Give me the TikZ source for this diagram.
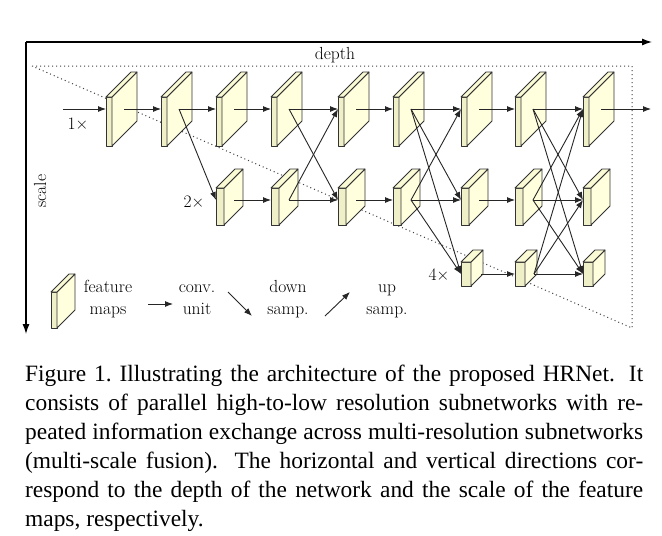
\documentclass[tikz,border=0pt]{standalone}
\usepackage{fontspec}
\newfontfamily\capfamily{Liberation Serif}
\usepackage{tikz}
\usetikzlibrary{arrows.meta}

\definecolor{mapfront}{RGB}{240,240,200}
\definecolor{mapside}{RGB}{255,255,222}
\definecolor{maptop}{RGB}{250,250,212}

\newcommand{\dfont}{\fontsize{17.5}{22}\selectfont}
\newcommand{\capfont}{\capfamily\fontsize{23.4}{29}\selectfont}

\tikzset{
  mapface/.style={draw=black!80, line width=0.8pt, line join=round},
  conn/.style={->, line width=0.9pt, black!85},
  axis/.style={-{Latex[length=10pt,width=7pt]}, line width=1.2pt},
  bound/.style={line width=1pt, dash pattern=on 1pt off 3pt, black!75},
  lbl/.style={font=\dfont, inner sep=0pt},
  pics/fmap/.style n args={4}{code={
    \filldraw[mapface, fill=mapfront] (0,0) rectangle (#1,#2);
    \filldraw[mapface, fill=mapside] (#1,0) -- ++(#3,-#3) -- ++(0,#2) -- (#1,#2) -- cycle;
    \filldraw[mapface, fill=maptop] (0,0) -- ++(#3,-#3) -- ++(#1,0) -- (#1,0) -- cycle;
    \coordinate (-in) at (0,12);
    \coordinate (-out) at (#4,12);
  }},
}

\begin{document}
\begin{tikzpicture}[x=1pt,y=-1pt,>={Latex[length=8pt,width=6pt]}]
\path[fill=white, use as bounding box] (0,0) rectangle (662,536);

% axes
\coordinate (origin) at (26,42);
\coordinate (depthend) at (652,42);
\coordinate (scaleend) at (26,334);
\draw[axis] (origin) -- (depthend);
\draw[axis] (origin) -- (scaleend);
\node[lbl] (depthlbl) at (335,55) {depth};
\node[lbl, rotate=90] (scalelbl) at (40,191) {scale};

% dotted region
\coordinate (t0) at (32,66);
\coordinate (t1) at (632,66);
\coordinate (t2) at (632,328);
\draw[bound] (t0) -- (t1) -- (t2) -- cycle;

% 1x branch
\pic (a1) at (106,97) {fmap={6}{49}{25}{18}};
\pic (a2) at (161,97) {fmap={6}{49}{25}{18}};
\pic (a3) at (216,97) {fmap={6}{49}{25}{18}};
\pic (a4) at (271,97) {fmap={6}{49}{25}{18}};
\pic (a5) at (338,97) {fmap={6}{49}{25}{18}};
\pic (a6) at (393,97) {fmap={6}{49}{25}{18}};
\pic (a7) at (461,97) {fmap={6}{49}{25}{18}};
\pic (a8) at (515,97) {fmap={6}{49}{25}{18}};
\pic (a9) at (583,97) {fmap={6}{49}{25}{18}};

% 2x branch
\pic (b3) at (216,188) {fmap={8}{37}{19}{18}};
\pic (b4) at (271,188) {fmap={8}{37}{19}{18}};
\pic (b5) at (338,188) {fmap={8}{37}{19}{18}};
\pic (b6) at (393,188) {fmap={8}{37}{19}{18}};
\pic (b7) at (461,188) {fmap={8}{37}{19}{18}};
\pic (b8) at (515,188) {fmap={8}{37}{19}{18}};
\pic (b9) at (583,188) {fmap={8}{37}{19}{18}};

% 4x branch
\pic (c7) at (461,262) {fmap={10}{24}{12}{20}};
\pic (c8) at (515,262) {fmap={10}{24}{12}{19}};
\pic (c9) at (583,262) {fmap={10}{24}{12}{19}};

\node[lbl] (x1) at (78,124) {1\texttimes};
\node[lbl] (x2) at (194,202) {2\texttimes};
\node[lbl] (x4) at (439,275) {4\texttimes};

% conv. units
\coordinate (input) at (63,109);
\coordinate (output) at (651,109);
\draw[conn] (input) -- (a1-in);
\draw[conn] (a1-out) -- (a2-in);
\draw[conn] (a2-out) -- (a3-in);
\draw[conn] (a3-out) -- (a4-in);
\draw[conn] (a4-out) -- (a5-in);
\draw[conn] (a5-out) -- (a6-in);
\draw[conn] (a6-out) -- (a7-in);
\draw[conn] (a7-out) -- (a8-in);
\draw[conn] (a8-out) -- (a9-in);
\draw[conn] (a9-out) -- (output);
\draw[conn] (b3-out) -- (b4-in);
\draw[conn] (b4-out) -- (b5-in);
\draw[conn] (b5-out) -- (b6-in);
\draw[conn] (b6-out) -- (b7-in);
\draw[conn] (b7-out) -- (b8-in);
\draw[conn] (b8-out) -- (b9-in);
\draw[conn] (c7-out) -- (c8-in);
\draw[conn] (c8-out) -- (c9-in);

% exchange units
\draw[conn] (a2-out) -- (b3-in);
\draw[conn] (a4-out) -- (b5-in);
\draw[conn] (b4-out) -- (a5-in);
\draw[conn] (a6-out) -- (b7-in);
\draw[conn] (a6-out) -- (c7-in);
\draw[conn] (b6-out) -- (a7-in);
\draw[conn] (b6-out) -- (c7-in);
\draw[conn] (a8-out) -- (b9-in);
\draw[conn] (a8-out) -- (c9-in);
\draw[conn] (b8-out) -- (a9-in);
\draw[conn] (b8-out) -- (c9-in);
\draw[conn] (c8-out) -- (a9-in);
\draw[conn] (c8-out) -- (b9-in);

% legend
\pic (leg) at (51,292) {fmap={6}{36}{18}{18}};
\node[lbl, align=center, anchor=north] (legmap) at (108,276.6) {\strut feature\\maps};
\node[lbl, align=center, anchor=north] (legconv) at (197,276.6) {\strut conv.\\unit};
\node[lbl, align=center, anchor=north] (legdown) at (288,276.6) {\strut down\\samp.};
\node[lbl, align=center, anchor=north] (legup) at (387,276.6) {\strut up\\samp.};
\coordinate (r0) at (148,304);
\coordinate (r1) at (173,304);
\coordinate (d0) at (228,292);
\coordinate (d1) at (252,316);
\coordinate (u0) at (325,316);
\coordinate (u1) at (350,292);
\draw[conn] (r0) -- (r1);
\draw[conn] (d0) -- (d1);
\draw[conn] (u0) -- (u1);

% caption
\node[anchor=north west, inner sep=0pt, text width=618pt, align=justify, font=\capfont] (caption) at (25,361)
{\tolerance=9999\strut Figure 1.\ Illustrating the architecture of the proposed HRNet.  It\linebreak
consists of parallel high-to-low resolution subnetworks with re-\linebreak
peated information exchange across multi-resolution subnetworks\linebreak
(multi-scale fusion).  The horizontal and vertical directions cor-\linebreak
respond to the depth of the network and the scale of the feature\linebreak
maps, respectively.};
\end{tikzpicture}
\end{document}
